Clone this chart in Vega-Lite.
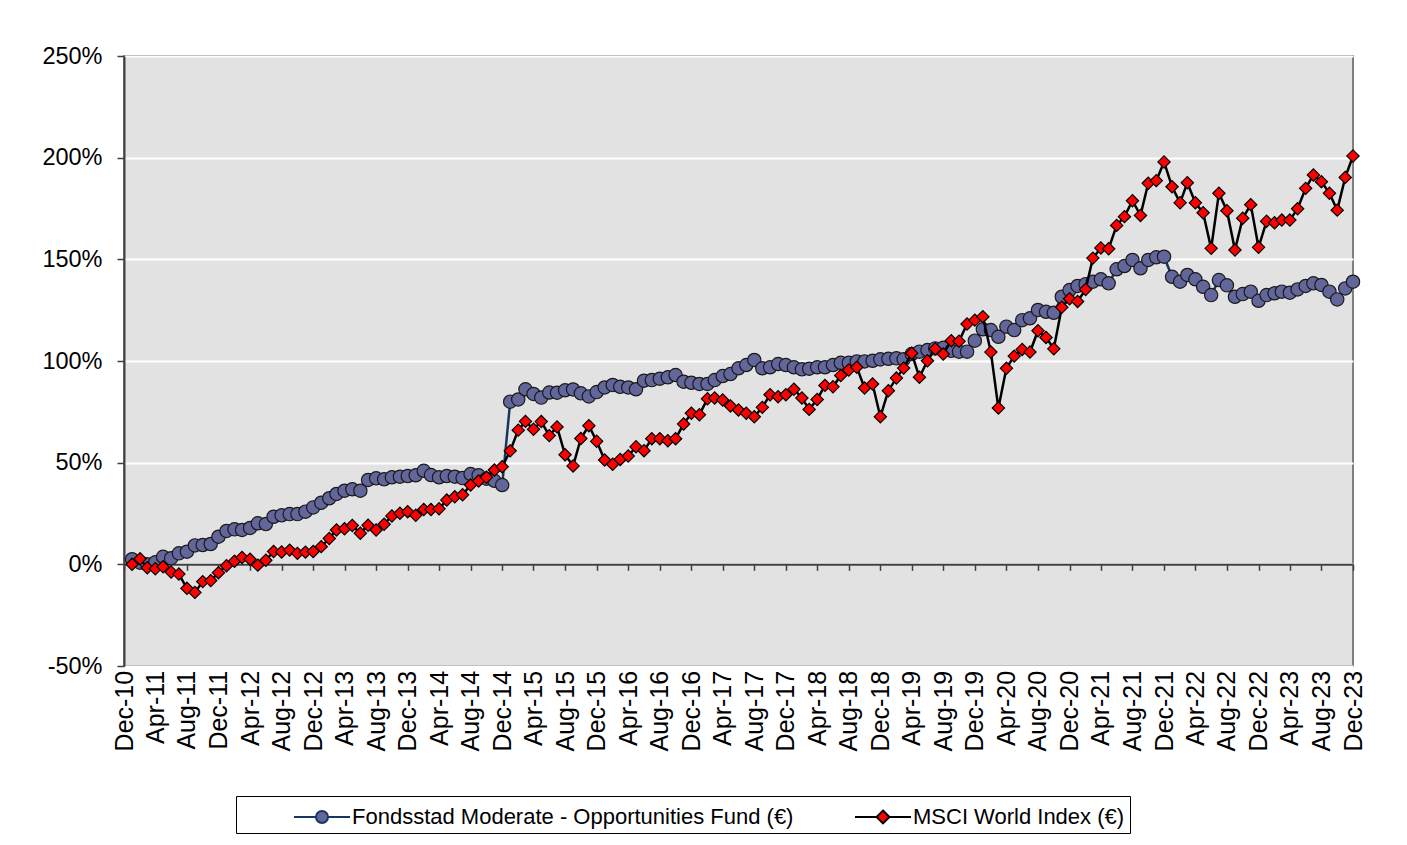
{
  "$schema": "https://vega.github.io/schema/vega-lite/v6.json",
  "width": 1229,
  "height": 610,
  "autosize": {"type": "none"},
  "padding": {"left": 124, "top": 56, "right": 54, "bottom": 179},
  "background": "white",
  "config": {
    "view": {"fill": "#E2E2E2", "stroke": "#808080", "strokeWidth": 2},
    "font": "Liberation Sans",
    "axis": {"labelFont": "Liberation Sans", "labelColor": "#000000"},
    "legend": {"labelFont": "Liberation Sans", "labelColor": "#000000"}
  },
  "data": {
    "values": [
      {"date": "2011-01-01", "fund": 2.5, "msci": 0},
      {"date": "2011-02-01", "fund": 0.8, "msci": 2.7},
      {"date": "2011-03-01", "fund": 0.0, "msci": -1.7},
      {"date": "2011-04-01", "fund": 1.0, "msci": -2.2},
      {"date": "2011-05-01", "fund": 3.7, "msci": -1.2},
      {"date": "2011-06-01", "fund": 3.0, "msci": -3.8},
      {"date": "2011-07-01", "fund": 5.4, "msci": -4.8},
      {"date": "2011-08-01", "fund": 6.2, "msci": -11.8},
      {"date": "2011-09-01", "fund": 9.3, "msci": -13.8},
      {"date": "2011-10-01", "fund": 9.5, "msci": -8.5},
      {"date": "2011-11-01", "fund": 10.0, "msci": -8.0},
      {"date": "2011-12-01", "fund": 13.6, "msci": -4.1},
      {"date": "2012-01-01", "fund": 16.4, "msci": -0.7},
      {"date": "2012-02-01", "fund": 17.2, "msci": 1.5},
      {"date": "2012-03-01", "fund": 16.9, "msci": 3.4},
      {"date": "2012-04-01", "fund": 17.9, "msci": 2.5},
      {"date": "2012-05-01", "fund": 20.2, "msci": -0.4},
      {"date": "2012-06-01", "fund": 19.8, "msci": 2.0},
      {"date": "2012-07-01", "fund": 23.4, "msci": 6.3},
      {"date": "2012-08-01", "fund": 24.1, "msci": 6.1},
      {"date": "2012-09-01", "fund": 24.7, "msci": 7.0},
      {"date": "2012-10-01", "fund": 24.7, "msci": 5.4},
      {"date": "2012-11-01", "fund": 25.9, "msci": 6.0},
      {"date": "2012-12-01", "fund": 28.0, "msci": 6.3},
      {"date": "2013-01-01", "fund": 30.3, "msci": 8.7},
      {"date": "2013-02-01", "fund": 32.5, "msci": 12.7},
      {"date": "2013-03-01", "fund": 34.6, "msci": 16.9},
      {"date": "2013-04-01", "fund": 36.2, "msci": 17.5},
      {"date": "2013-05-01", "fund": 36.9, "msci": 19.1},
      {"date": "2013-06-01", "fund": 36.2, "msci": 15.3},
      {"date": "2013-07-01", "fund": 41.5, "msci": 19.2},
      {"date": "2013-08-01", "fund": 42.3, "msci": 16.9},
      {"date": "2013-09-01", "fund": 41.8, "msci": 19.7},
      {"date": "2013-10-01", "fund": 42.8, "msci": 23.8},
      {"date": "2013-11-01", "fund": 43.1, "msci": 25.1},
      {"date": "2013-12-01", "fund": 43.4, "msci": 25.9},
      {"date": "2014-01-01", "fund": 43.8, "msci": 24.1},
      {"date": "2014-02-01", "fund": 46.0, "msci": 27.0},
      {"date": "2014-03-01", "fund": 43.9, "msci": 27.0},
      {"date": "2014-04-01", "fund": 42.8, "msci": 27.3},
      {"date": "2014-05-01", "fund": 43.4, "msci": 31.6},
      {"date": "2014-06-01", "fund": 43.1, "msci": 33.2},
      {"date": "2014-07-01", "fund": 42.4, "msci": 34.2},
      {"date": "2014-08-01", "fund": 44.4, "msci": 39.0},
      {"date": "2014-09-01", "fund": 43.8, "msci": 41.0},
      {"date": "2014-10-01", "fund": 42.1, "msci": 42.8},
      {"date": "2014-11-01", "fund": 41.1, "msci": 46.4},
      {"date": "2014-12-01", "fund": 39.0, "msci": 48.0},
      {"date": "2015-01-01", "fund": 80.0, "msci": 55.8},
      {"date": "2015-02-01", "fund": 81.1, "msci": 66.0},
      {"date": "2015-03-01", "fund": 86.1, "msci": 70.3},
      {"date": "2015-04-01", "fund": 83.8, "msci": 66.4},
      {"date": "2015-05-01", "fund": 82.0, "msci": 70.2},
      {"date": "2015-06-01", "fund": 84.5, "msci": 63.3},
      {"date": "2015-07-01", "fund": 84.4, "msci": 67.6},
      {"date": "2015-08-01", "fund": 85.6, "msci": 53.9},
      {"date": "2015-09-01", "fund": 86.0, "msci": 48.4},
      {"date": "2015-10-01", "fund": 84.1, "msci": 61.9},
      {"date": "2015-11-01", "fund": 82.6, "msci": 68.2},
      {"date": "2015-12-01", "fund": 84.7, "msci": 60.5},
      {"date": "2016-01-01", "fund": 87.0, "msci": 51.3},
      {"date": "2016-02-01", "fund": 88.2, "msci": 49.2},
      {"date": "2016-03-01", "fund": 87.3, "msci": 51.6},
      {"date": "2016-04-01", "fund": 87.0, "msci": 53.3},
      {"date": "2016-05-01", "fund": 86.1, "msci": 57.8},
      {"date": "2016-06-01", "fund": 90.3, "msci": 55.9},
      {"date": "2016-07-01", "fund": 90.6, "msci": 61.8},
      {"date": "2016-08-01", "fund": 91.3, "msci": 61.8},
      {"date": "2016-09-01", "fund": 92.0, "msci": 60.8},
      {"date": "2016-10-01", "fund": 93.1, "msci": 61.8},
      {"date": "2016-11-01", "fund": 89.8, "msci": 69.0},
      {"date": "2016-12-01", "fund": 89.3, "msci": 74.3},
      {"date": "2017-01-01", "fund": 88.7, "msci": 73.6},
      {"date": "2017-02-01", "fund": 88.7, "msci": 81.4},
      {"date": "2017-03-01", "fund": 90.6, "msci": 81.8},
      {"date": "2017-04-01", "fund": 92.6, "msci": 80.8},
      {"date": "2017-05-01", "fund": 93.6, "msci": 77.9},
      {"date": "2017-06-01", "fund": 96.4, "msci": 75.9},
      {"date": "2017-07-01", "fund": 98.0, "msci": 74.3},
      {"date": "2017-08-01", "fund": 100.5, "msci": 72.6},
      {"date": "2017-09-01", "fund": 96.4, "msci": 77.2},
      {"date": "2017-10-01", "fund": 96.9, "msci": 83.4},
      {"date": "2017-11-01", "fund": 98.5, "msci": 82.4},
      {"date": "2017-12-01", "fund": 98.0, "msci": 83.4},
      {"date": "2018-01-01", "fund": 96.9, "msci": 86.1},
      {"date": "2018-02-01", "fund": 95.9, "msci": 81.8},
      {"date": "2018-03-01", "fund": 96.2, "msci": 76.2},
      {"date": "2018-04-01", "fund": 96.9, "msci": 81.1},
      {"date": "2018-05-01", "fund": 96.9, "msci": 88.0},
      {"date": "2018-06-01", "fund": 98.0, "msci": 87.3},
      {"date": "2018-07-01", "fund": 99.1, "msci": 92.9},
      {"date": "2018-08-01", "fund": 99.1, "msci": 95.6},
      {"date": "2018-09-01", "fund": 99.8, "msci": 96.9},
      {"date": "2018-10-01", "fund": 99.8, "msci": 86.7},
      {"date": "2018-11-01", "fund": 100.1, "msci": 88.7},
      {"date": "2018-12-01", "fund": 100.8, "msci": 72.6},
      {"date": "2019-01-01", "fund": 101.1, "msci": 85.4},
      {"date": "2019-02-01", "fund": 101.3, "msci": 91.6},
      {"date": "2019-03-01", "fund": 100.8, "msci": 96.5},
      {"date": "2019-04-01", "fund": 103.4, "msci": 103.8},
      {"date": "2019-05-01", "fund": 104.6, "msci": 92.0},
      {"date": "2019-06-01", "fund": 105.4, "msci": 100.1},
      {"date": "2019-07-01", "fund": 106.2, "msci": 106.0},
      {"date": "2019-08-01", "fund": 106.5, "msci": 103.4},
      {"date": "2019-09-01", "fund": 105.0, "msci": 110.0},
      {"date": "2019-10-01", "fund": 104.6, "msci": 109.7},
      {"date": "2019-11-01", "fund": 104.6, "msci": 118.2},
      {"date": "2019-12-01", "fund": 110.0, "msci": 120.1},
      {"date": "2020-01-01", "fund": 115.6, "msci": 121.8},
      {"date": "2020-02-01", "fund": 115.2, "msci": 104.4},
      {"date": "2020-03-01", "fund": 111.9, "msci": 76.9},
      {"date": "2020-04-01", "fund": 116.9, "msci": 96.4},
      {"date": "2020-05-01", "fund": 115.2, "msci": 102.4},
      {"date": "2020-06-01", "fund": 120.1, "msci": 105.7},
      {"date": "2020-07-01", "fund": 121.0, "msci": 104.4},
      {"date": "2020-08-01", "fund": 125.1, "msci": 114.9},
      {"date": "2020-09-01", "fund": 124.2, "msci": 111.6},
      {"date": "2020-10-01", "fund": 123.7, "msci": 106.0},
      {"date": "2020-11-01", "fund": 131.6, "msci": 126.4},
      {"date": "2020-12-01", "fund": 134.9, "msci": 130.6},
      {"date": "2021-01-01", "fund": 136.9, "msci": 129.3},
      {"date": "2021-02-01", "fund": 137.8, "msci": 135.2},
      {"date": "2021-03-01", "fund": 139.0, "msci": 150.6},
      {"date": "2021-04-01", "fund": 140.2, "msci": 155.6},
      {"date": "2021-05-01", "fund": 138.2, "msci": 155.2},
      {"date": "2021-06-01", "fund": 145.1, "msci": 166.7},
      {"date": "2021-07-01", "fund": 146.7, "msci": 171.0},
      {"date": "2021-08-01", "fund": 149.7, "msci": 178.8},
      {"date": "2021-09-01", "fund": 145.6, "msci": 171.6},
      {"date": "2021-10-01", "fund": 149.7, "msci": 187.4},
      {"date": "2021-11-01", "fund": 151.0, "msci": 188.7},
      {"date": "2021-12-01", "fund": 151.3, "msci": 197.9},
      {"date": "2022-01-01", "fund": 141.4, "msci": 185.7},
      {"date": "2022-02-01", "fund": 139.0, "msci": 177.8},
      {"date": "2022-03-01", "fund": 142.3, "msci": 187.7},
      {"date": "2022-04-01", "fund": 140.2, "msci": 177.8},
      {"date": "2022-05-01", "fund": 136.5, "msci": 172.9},
      {"date": "2022-06-01", "fund": 132.4, "msci": 155.4},
      {"date": "2022-07-01", "fund": 139.8, "msci": 182.5},
      {"date": "2022-08-01", "fund": 137.2, "msci": 173.9},
      {"date": "2022-09-01", "fund": 131.6, "msci": 154.6},
      {"date": "2022-10-01", "fund": 132.9, "msci": 170.2},
      {"date": "2022-11-01", "fund": 134.1, "msci": 176.9},
      {"date": "2022-12-01", "fund": 129.6, "msci": 155.9},
      {"date": "2023-01-01", "fund": 132.4, "msci": 168.7},
      {"date": "2023-02-01", "fund": 133.3, "msci": 168.0},
      {"date": "2023-03-01", "fund": 134.1, "msci": 169.3},
      {"date": "2023-04-01", "fund": 133.6, "msci": 169.3},
      {"date": "2023-05-01", "fund": 135.2, "msci": 174.9},
      {"date": "2023-06-01", "fund": 136.9, "msci": 184.9},
      {"date": "2023-07-01", "fund": 138.2, "msci": 191.5},
      {"date": "2023-08-01", "fund": 137.4, "msci": 188.2},
      {"date": "2023-09-01", "fund": 134.1, "msci": 182.5},
      {"date": "2023-10-01", "fund": 130.3, "msci": 174.2},
      {"date": "2023-11-01", "fund": 135.7, "msci": 190.3},
      {"date": "2023-12-01", "fund": 139.0, "msci": 200.8}
    ]
  },
  "transform": [{"fold": ["fund", "msci"], "as": ["series", "value"]}],
  "encoding": {
    "x": {
      "field": "date",
      "type": "temporal",
      "scale": {
        "type": "utc",
        "domain": [
          {"year": 2010, "month": 12, "date": 1, "utc": true},
          {"year": 2023, "month": 12, "date": 1, "utc": true}
        ]
      },
      "axis": {
        "title": null,
        "orient": "bottom",
        "offset": -101.667,
        "domain": true,
        "domainColor": "#404040",
        "domainWidth": 2,
        "ticks": true,
        "tickColor": "#404040",
        "tickWidth": 1.5,
        "tickSize": 6,
        "grid": false,
        "labelAngle": 270,
        "labelAlign": "right",
        "labelBaseline": "middle",
        "labelPadding": 100,
        "labelFontSize": 25,
        "labelOverlap": false,
        "labelFlush": false,
        "labelExpr": "utcFormat(datum.value, '%b-%y')",
        "values": [
          {"year": 2010, "month": 12, "date": 1, "utc": true},
          {"year": 2011, "month": 4, "date": 1, "utc": true},
          {"year": 2011, "month": 8, "date": 1, "utc": true},
          {"year": 2011, "month": 12, "date": 1, "utc": true},
          {"year": 2012, "month": 4, "date": 1, "utc": true},
          {"year": 2012, "month": 8, "date": 1, "utc": true},
          {"year": 2012, "month": 12, "date": 1, "utc": true},
          {"year": 2013, "month": 4, "date": 1, "utc": true},
          {"year": 2013, "month": 8, "date": 1, "utc": true},
          {"year": 2013, "month": 12, "date": 1, "utc": true},
          {"year": 2014, "month": 4, "date": 1, "utc": true},
          {"year": 2014, "month": 8, "date": 1, "utc": true},
          {"year": 2014, "month": 12, "date": 1, "utc": true},
          {"year": 2015, "month": 4, "date": 1, "utc": true},
          {"year": 2015, "month": 8, "date": 1, "utc": true},
          {"year": 2015, "month": 12, "date": 1, "utc": true},
          {"year": 2016, "month": 4, "date": 1, "utc": true},
          {"year": 2016, "month": 8, "date": 1, "utc": true},
          {"year": 2016, "month": 12, "date": 1, "utc": true},
          {"year": 2017, "month": 4, "date": 1, "utc": true},
          {"year": 2017, "month": 8, "date": 1, "utc": true},
          {"year": 2017, "month": 12, "date": 1, "utc": true},
          {"year": 2018, "month": 4, "date": 1, "utc": true},
          {"year": 2018, "month": 8, "date": 1, "utc": true},
          {"year": 2018, "month": 12, "date": 1, "utc": true},
          {"year": 2019, "month": 4, "date": 1, "utc": true},
          {"year": 2019, "month": 8, "date": 1, "utc": true},
          {"year": 2019, "month": 12, "date": 1, "utc": true},
          {"year": 2020, "month": 4, "date": 1, "utc": true},
          {"year": 2020, "month": 8, "date": 1, "utc": true},
          {"year": 2020, "month": 12, "date": 1, "utc": true},
          {"year": 2021, "month": 4, "date": 1, "utc": true},
          {"year": 2021, "month": 8, "date": 1, "utc": true},
          {"year": 2021, "month": 12, "date": 1, "utc": true},
          {"year": 2022, "month": 4, "date": 1, "utc": true},
          {"year": 2022, "month": 8, "date": 1, "utc": true},
          {"year": 2022, "month": 12, "date": 1, "utc": true},
          {"year": 2023, "month": 4, "date": 1, "utc": true},
          {"year": 2023, "month": 8, "date": 1, "utc": true},
          {"year": 2023, "month": 12, "date": 1, "utc": true}
        ]
      }
    },
    "y": {
      "field": "value",
      "type": "quantitative",
      "scale": {"domain": [-50, 250], "nice": false, "zero": false},
      "axis": {
        "title": null,
        "values": [-50, 0, 50, 100, 150, 200, 250],
        "labelExpr": "datum.value + '%'",
        "labelFontSize": 23.5,
        "labelPadding": 15,
        "tickSize": 7,
        "tickColor": "#404040",
        "tickWidth": 1.5,
        "domainColor": "#404040",
        "domainWidth": 2,
        "grid": true,
        "gridColor": "#FFFFFF",
        "gridWidth": 2
      }
    }
  },
  "layer": [
    {
      "transform": [{"filter": "datum.series == 'fund'"}],
      "mark": {"type": "line", "color": "#17375E", "strokeWidth": 2.5}
    },
    {
      "transform": [{"filter": "datum.series == 'fund'"}],
      "mark": {"type": "point", "shape": "circle", "filled": true, "fill": "#63669B", "stroke": "#1A1A1A", "strokeWidth": 1.2, "size": 177, "opacity": 1}
    },
    {
      "transform": [{"filter": "datum.series == 'msci'"}],
      "mark": {"type": "line", "color": "#000000", "strokeWidth": 2.5}
    },
    {
      "transform": [{"filter": "datum.series == 'msci'"}],
      "mark": {"type": "point", "shape": "diamond", "filled": true, "fill": "#FF0000", "stroke": "#000000", "strokeWidth": 1.2, "size": 150, "opacity": 1}
    },
    {
      "transform": [{"filter": "false"}],
      "mark": {"type": "point", "filled": true, "strokeWidth": 2, "opacity": 1},
      "encoding": {
        "shape": {
          "field": "series",
          "type": "nominal",
          "scale": {"domain": ["fund", "msci"], "range": ["M-1.87,0H-0.4M0.4,0H1.87M0.4,0A0.4,0.4 0 1,1 -0.4,0A0.4,0.4 0 1,1 0.4,0Z", "M-1.87,0H-0.43M0.43,0H1.87M0,-0.43L0.43,0L0,0.43L-0.43,0Z"]},
          "legend": {
            "title": null,
            "orient": "none",
            "legendX": 112,
            "legendY": 740,
            "direction": "horizontal",
            "symbolSize": 900,
            "symbolStrokeWidth": 2,
            "symbolOpacity": 1,
            "symbolOffset": 65,
            "labelOffset": 14,
            "columnPadding": 8,
            "labelFontSize": 22,
            "labelLimit": 0,
            "padding": 5,
            "strokeColor": "#000000",
            "fillColor": "#FFFFFF",
            "labelExpr": "datum.value == 'fund' ? 'Fondsstad Moderate - Opportunities Fund (€)' : 'MSCI World Index (€)'"
          }
        },
        "fill": {
          "field": "series",
          "type": "nominal",
          "scale": {"domain": ["fund", "msci"], "range": ["#63669B", "#FF0000"]},
          "legend": {
            "title": null,
            "orient": "none",
            "legendX": 112,
            "legendY": 740,
            "direction": "horizontal",
            "symbolSize": 900,
            "symbolStrokeWidth": 2,
            "symbolOpacity": 1,
            "symbolOffset": 65,
            "labelOffset": 14,
            "columnPadding": 8,
            "labelFontSize": 22,
            "labelLimit": 0,
            "padding": 5,
            "strokeColor": "#000000",
            "fillColor": "#FFFFFF",
            "labelExpr": "datum.value == 'fund' ? 'Fondsstad Moderate - Opportunities Fund (€)' : 'MSCI World Index (€)'"
          }
        },
        "stroke": {
          "field": "series",
          "type": "nominal",
          "scale": {"domain": ["fund", "msci"], "range": ["#17375E", "#000000"]},
          "legend": {
            "title": null,
            "orient": "none",
            "legendX": 112,
            "legendY": 740,
            "direction": "horizontal",
            "symbolSize": 900,
            "symbolStrokeWidth": 2,
            "symbolOpacity": 1,
            "symbolOffset": 65,
            "labelOffset": 14,
            "columnPadding": 8,
            "labelFontSize": 22,
            "labelLimit": 0,
            "padding": 5,
            "strokeColor": "#000000",
            "fillColor": "#FFFFFF",
            "labelExpr": "datum.value == 'fund' ? 'Fondsstad Moderate - Opportunities Fund (€)' : 'MSCI World Index (€)'"
          }
        }
      }
    }
  ]
}
